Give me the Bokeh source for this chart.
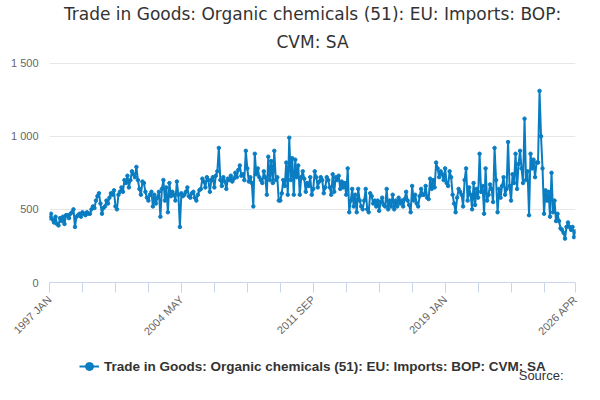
from bokeh.plotting import figure
from bokeh.models import FixedTicker, Legend, LegendItem, Range1d, Label, Title
from bokeh.layouts import column
from bokeh.embed import file_html
from bokeh.resources import INLINE
import math

values = [
440,470,430,410,450,400,390,440,420,450,400,460,
460,440,470,480,500,380,450,460,470,450,480,470,
460,480,470,470,500,520,510,560,590,610,540,470,
510,520,560,540,580,610,600,630,520,500,600,620,
650,620,700,680,730,650,700,760,740,720,790,700,
640,600,690,680,620,580,560,600,620,520,600,540,
580,620,450,640,700,560,650,480,680,590,620,600,
560,690,600,380,610,590,600,620,650,590,580,610,
620,580,560,600,630,640,710,690,650,720,700,620,
700,720,650,730,760,920,700,660,720,690,640,710,
700,730,690,710,750,720,770,800,730,740,700,900,
780,690,720,680,520,880,740,780,720,700,680,760,
720,600,860,700,830,680,900,700,720,560,560,610,
700,660,820,600,990,700,850,600,840,720,800,600,
720,760,710,620,680,660,720,600,640,760,720,650,
690,720,700,610,650,720,700,650,600,740,620,720,
700,730,640,690,650,680,600,780,480,560,640,520,
600,480,640,560,520,500,560,640,500,480,610,590,
540,560,520,560,490,550,580,530,520,640,500,560,
520,600,500,560,520,580,540,560,520,570,620,560,
530,480,660,560,600,540,520,590,640,600,600,660,
580,570,710,640,700,650,820,780,720,760,740,700,
780,680,660,760,720,600,540,480,580,640,620,600,
520,700,780,560,650,600,500,680,530,640,580,880,
620,660,470,780,560,600,670,640,550,920,700,480,
640,580,660,720,600,640,960,660,560,740,680,880,
640,810,900,780,680,1120,700,760,460,880,780,840,
720,820,820,1310,1000,780,470,630,560,620,450,750,
480,560,420,470,420,370,360,340,300,380,410,380,
360,380,310,350]
tick_pos = [0, 88, 176, 264, 351]
tick_labels = ["1997 JAN", "2004 MAY", "2011 SEP", "2019 JAN", "2026 APR"]
y_ticks = [0, 500, 1000, 1500]
y_labels = ["0", "500", "1 000", "1 500"]
title_lines = ["Trade in Goods: Organic chemicals (51): EU: Imports: BOP:", "CVM: SA"]
series = "Trade in Goods: Organic chemicals (51): EU: Imports: BOP: CVM: SA"
col = "#0a7dc2"

x = list(range(len(values)))
p = figure(width=584, height=344, output_backend="svg", toolbar_location=None,
           x_range=Range1d(0, 351), y_range=Range1d(0, 1545),
           min_border_left=49, min_border_right=9, min_border_top=0, min_border_bottom=60)
p.outline_line_color = None
p.line(x, values, color=col, line_width=2)
p.scatter(x, values, color=col, size=3.5)

p.xaxis.ticker = FixedTicker(ticks=tick_pos, minor_ticks=list(range(0, 352, 22)))
p.xaxis.major_label_overrides = {t: l for t, l in zip(tick_pos, tick_labels)}
p.xaxis.major_label_orientation = math.pi / 4
p.xaxis.axis_line_color = "#ccd6eb"
p.xaxis.major_tick_line_color = "#ccd6eb"
p.xaxis.minor_tick_line_color = "#ccd6eb"
p.xaxis.major_tick_out = 10
p.xaxis.minor_tick_out = 10
p.xaxis.major_tick_in = 0
p.xaxis.minor_tick_in = 0
p.xaxis.major_label_text_color = "#666666"
p.xaxis.major_label_text_font_size = "11px"
p.xgrid.visible = False

p.yaxis.ticker = FixedTicker(ticks=y_ticks)
p.yaxis.major_label_overrides = {t: l for t, l in zip(y_ticks, y_labels)}
p.yaxis.axis_line_color = None
p.yaxis.major_tick_line_color = None
p.yaxis.minor_tick_line_color = None
p.yaxis.major_label_text_color = "#666666"
p.yaxis.major_label_text_font_size = "11px"
p.ygrid.grid_line_color = "#e6e6e6"

for t, so in zip(reversed(title_lines), [10, 2]):
    p.add_layout(Title(text=t, align="center", text_font_size="17px",
                       text_font_style="normal", text_color="#333333",
                       text_font="DejaVu Sans", standoff=so, offset=0), "above")

p2 = figure(width=584, height=40, output_backend="svg", toolbar_location=None,
            min_border=0, x_axis_type=None, y_axis_type=None,
            x_range=Range1d(0, 351), y_range=Range1d(-20, -10))
p2.outline_line_color = None
p2.grid.visible = False
l1 = p2.line(x, values, color=col, line_width=2)
l2 = p2.scatter(x, values, color=col, size=4)
leg = Legend(items=[LegendItem(label=series, renderers=[l1, l2])],
             location=(30, 8), orientation="horizontal",
             label_text_font_style="bold", label_text_font_size="13.5px",
             label_text_color="#333333", border_line_color=None,
             background_fill_alpha=0, margin=0, padding=4, glyph_width=20)
p2.add_layout(leg)
p2.add_layout(Label(x=343, y=-19.6, text="Source:",
                    text_align="right", text_baseline="bottom",
                    text_font_size="13px", text_color="#333333"))

open("out.html", "w").write(file_html(column(p, p2, spacing=0), INLINE))
